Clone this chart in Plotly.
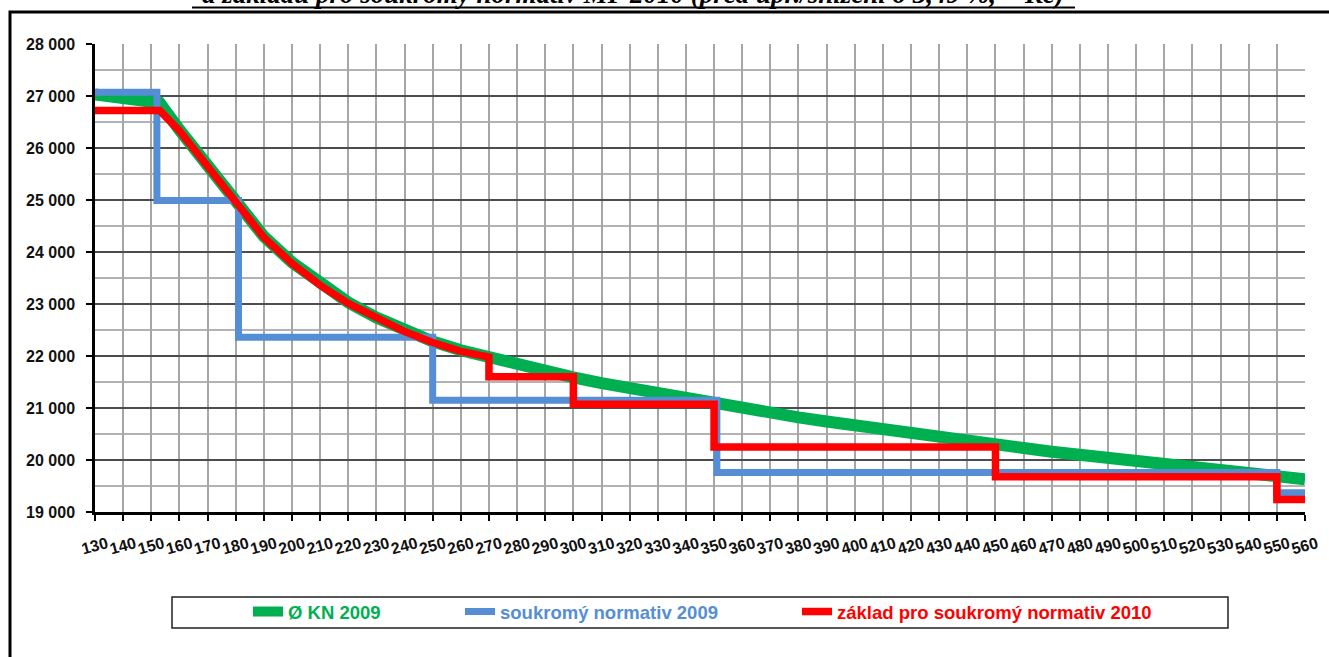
import plotly.graph_objects as go

# ---------------- data ----------------
kn_x = [130, 140, 150, 153, 160, 170, 180, 190, 200, 210, 220, 230, 240, 250, 260, 270,
        280, 290, 300, 310, 320, 330, 340, 350, 360, 370, 380, 390, 400, 410, 420, 430,
        440, 450, 460, 470, 480, 490, 500, 510, 520, 530, 540, 550, 560]
kn_y = [27030, 26980, 26920, 26870, 26350, 25650, 24950, 24300, 23800, 23380, 23030, 22740,
        22490, 22280, 22110, 21970, 21840, 21710, 21590, 21480, 21380, 21280, 21190, 21100,
        21010, 20920, 20820, 20740, 20660, 20580, 20500, 20430, 20360, 20300, 20230, 20160,
        20100, 20040, 19980, 19920, 19860, 19800, 19750, 19700, 19630]

sn2009_x = [130, 152, 181, 250, 351, 550, 560]
sn2009_y = [27070, 24990, 22360, 21150, 19760, 19370, 19370]

zk2010_x = [130, 153, 160, 170, 180, 190, 200, 210, 220, 230, 240, 250, 260, 270,
            270, 300, 300, 350, 350, 450, 450, 550, 550, 560]
zk2010_y = [26720, 26720, 26330, 25640, 24920, 24280, 23780, 23360, 23010, 22720, 22470,
            22260, 22090, 21980, 21600, 21600, 21070, 21070, 20250, 20250, 19680, 19680,
            19240, 19240]

names = ["Ø KN 2009", "soukromý normativ 2009", "základ pro soukromý normativ 2010"]
colors = ["#00B050", "#558ED5", "#FF0000"]
title_text = "a základu pro soukromý normativ MP 2010 (před úpr./snížení o 3,49 %, + Kč)"

# ---------------- layout helpers ----------------
W, H = 1329, 657
L, R, T, B = 95, 24, 44, 145
PW, PH = W - L - R, H - T - B


def px(x):
    return (x - L) / PW


def py(y):
    return (H - B - y) / PH


fig = go.Figure()
fig.add_trace(go.Scatter(x=kn_x, y=kn_y, mode="lines", name=names[0],
                         line=dict(color=colors[0], width=12), legend="legend"))
fig.add_trace(go.Scatter(x=sn2009_x, y=sn2009_y, mode="lines", name=names[1],
                         line=dict(color=colors[1], width=7, shape="hv"), legend="legend2"))
fig.add_trace(go.Scatter(x=zk2010_x, y=zk2010_y, mode="lines", name=names[2],
                         line=dict(color=colors[2], width=7.5), legend="legend3"))

tickfont = dict(family="Liberation Sans", size=16, color="#111111", weight="bold")
legfont = dict(family="Liberation Sans", size=18.5, weight="bold")


def leg(xpix, color):
    return dict(x=px(xpix), y=py(612), xanchor="left", yanchor="middle",
                orientation="h", bgcolor="rgba(0,0,0,0)", borderwidth=0,
                font=dict(legfont, color=color), itemwidth=30)


fig.update_layout(
    width=W, height=H,
    margin=dict(l=L, r=R, t=T, b=B, autoexpand=False),
    paper_bgcolor="white", plot_bgcolor="white",
    separators=", ",
    showlegend=True,
    legend=leg(248, colors[0]),
    legend2=leg(460, colors[1]),
    legend3=leg(797, colors[2]),
    xaxis=dict(range=[130, 560], tick0=130, dtick=10, showgrid=True,
               gridcolor="#A6A6A6", gridwidth=2, showline=True, linecolor="black",
               linewidth=2.5, ticks="outside", ticklen=6, tickwidth=2, tickcolor="black",
               tickfont=tickfont, tickangle=-15, ticklabelstandoff=8, ticklabelshift=12,
               zeroline=False, fixedrange=True),
    yaxis=dict(range=[19000, 28000], tick0=19000, dtick=1000, tickformat=",d",
               showgrid=True, gridcolor="#4D4D4D", gridwidth=2,
               minor=dict(dtick=500, showgrid=True, gridcolor="#B3B3B3", gridwidth=1.5),
               showline=True, linecolor="black", linewidth=2.5, ticks="outside",
               ticklen=6, tickwidth=2, tickcolor="black", tickfont=tickfont,
               ticklabelstandoff=8, zeroline=False, fixedrange=True),
    shapes=[
        # outer frame
        dict(type="rect", xref="paper", yref="paper", x0=px(10), x1=px(1340),
             y0=py(700), y1=py(12), line=dict(color="black", width=3), layer="below"),
        # legend box
        dict(type="rect", xref="paper", yref="paper", x0=px(172), x1=px(1228),
             y0=py(628), y1=py(597), line=dict(color="#222222", width=1.5)),
        # title underline
        dict(type="line", xref="paper", yref="paper", x0=px(192), x1=px(1075),
             y0=py(7.5), y1=py(7.5), line=dict(color="black", width=2)),
    ],
    annotations=[
        dict(text="<b><i>" + title_text + "</i></b>", xref="paper", yref="paper",
             x=px(633), y=py(11), xanchor="center", yanchor="bottom", showarrow=False,
             font=dict(family="Liberation Serif", size=27, color="black")),
    ],
)

fig.write_html("out.html", config={"displayModeBar": False},
               post_script="document.body.style.margin='0px';")
